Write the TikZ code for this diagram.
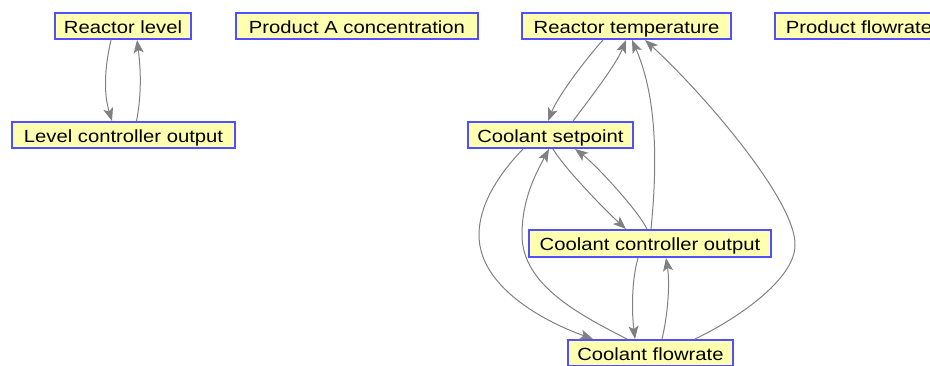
\documentclass[tikz,border=0pt]{standalone}
\usepackage{fontspec}
\setmainfont[FakeStretch=1.15]{Liberation Sans}
\usetikzlibrary{arrows.meta}
\definecolor{boxfill}{RGB}{255,255,176}
\definecolor{boxline}{RGB}{80,80,255}
\definecolor{edgegray}{RGB}{128,128,128}
\tikzset{
  var/.style={draw=boxline, fill=boxfill, line width=2pt, inner sep=0pt,
    minimum height=26pt, text height=14.6pt, text depth=0pt,
    font=\fontsize{17.6}{20}\selectfont},
  edge/.style={draw=edgegray, line width=1pt,
    -{Stealth[length=13pt,width=10pt,inset=3pt,fill=edgegray]}}
}
\begin{document}
\begin{tikzpicture}[x=1pt,y=-1pt]
\useasboundingbox (0,0) rectangle (930,366);
\node[var, minimum width=136pt] (rl) at (123,26) {Reactor level};
\node[var, minimum width=223pt] (lco) at (123.5,135) {Level controller output};
\node[var, minimum width=242pt] (pac) at (357,26) {Product A concentration};
\node[var, minimum width=209pt] (rt) at (626.5,26) {Reactor temperature};
\node[var, minimum width=168pt, anchor=west] (pf) at (774,26) {Product flowrate};
\node[var, minimum width=165pt] (cs) at (550.5,135) {Coolant setpoint};
\node[var, minimum width=242pt, minimum height=27pt] (cco) at (650,243.5) {Coolant controller output};
\node[var, minimum width=165pt] (cf) at (650.5,353) {Coolant flowrate};
% level loop
\draw[edge] ([xshift=-12pt]rl.south) .. controls +(-7,30) and +(-8,-26) .. ([xshift=-11.5pt]lco.north);
\draw[edge] ([xshift=13pt]lco.north) .. controls +(5,-25) and +(4,30) .. ([xshift=14pt]rl.south);
% reactor temperature <-> coolant setpoint
\draw[edge] ([xshift=-23.5pt]rt.south) .. controls +(-18,20) and +(10,-25) .. ([xshift=-2.5pt]cs.north);
\draw[edge] ([xshift=22.5pt]cs.north) .. controls +(15,-20) and +(-10,25) .. ([xshift=-0.5pt]rt.south);
% coolant controller output -> reactor temperature
\draw[edge] ([xshift=1pt]cco.north) .. controls +(8,-80) and +(22,50) .. ([xshift=5.5pt]rt.south);
% coolant flowrate -> reactor temperature
\draw[edge] ([xshift=44.5pt]cf.north) .. controls (735,320) and (795,280) .. (795,245)
  .. controls (796,200) and (700,90) .. ([xshift=18.5pt]rt.south);
% coolant setpoint <-> coolant controller output
\draw[edge] ([xshift=2.5pt]cs.south) .. controls +(12,20) and +(-20,-18) .. ([xshift=-24pt]cco.north);
\draw[edge] ([xshift=-3pt]cco.north) .. controls +(-10,-20) and +(20,15) .. ([xshift=24.5pt]cs.south);
% coolant setpoint <-> coolant flowrate
\draw[edge] ([xshift=-27.5pt]cs.south) .. controls (498,175) and (479,205) .. (479,235)
  .. controls (479,285) and (540,320) .. ([xshift=-57.5pt]cf.north);
\draw[edge] ([xshift=-23.5pt]cf.north) .. controls (580,315) and (522,285) .. (522,235)
  .. controls (522,200) and (535,175) .. ([xshift=-1.5pt]cs.south);
% coolant controller output <-> coolant flowrate
\draw[edge] ([xshift=-12pt]cco.south) .. controls +(-7,25) and +(-3,-25) .. ([xshift=-15.5pt]cf.north);
\draw[edge] ([xshift=11.5pt]cf.north) .. controls +(6,-25) and +(4,25) .. ([xshift=16pt]cco.south);
\end{tikzpicture}
\end{document}
